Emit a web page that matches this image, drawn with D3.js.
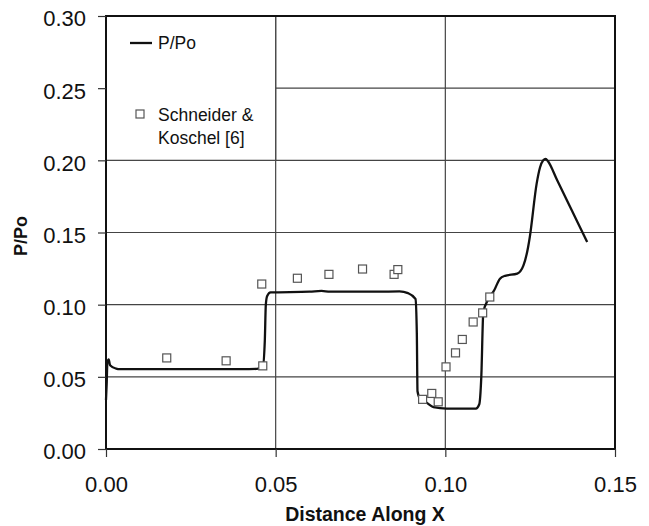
<!DOCTYPE html>
<html>
<head>
<meta charset="utf-8">
<script src="https://cdn.jsdelivr.net/npm/d3@7"></script>
<style>
  body { margin: 0; background: #fff; }
  text { font-family: "Liberation Sans", Arial, sans-serif; fill: #111; }
</style>
</head>
<body>
<svg width="649" height="526"></svg>
<script>
// computed P/Po along x
var lineX = [0.0000, 0.0002, 0.0004, 0.0008, 0.0012, 0.0030, 0.0040, 0.0200, 0.0400, 0.0444, 0.0462, 0.0468, 0.0471, 0.0475, 0.0485, 0.0600, 0.0635, 0.0660, 0.0800, 0.0865, 0.0890, 0.0912, 0.0916, 0.0918, 0.0925, 0.0945, 0.0965, 0.1004, 0.1090, 0.1100, 0.1106, 0.1112, 0.1125, 0.1144, 0.1161, 0.1176, 0.1212, 0.1230, 0.1244, 0.1249, 0.1269, 0.1279, 0.1288, 0.1296, 0.1302, 0.1330, 0.1360, 0.1390, 0.1418];
var lineY = [0.034, 0.045, 0.060, 0.062, 0.058, 0.0557, 0.0553, 0.0553, 0.0553, 0.0555, 0.057, 0.075, 0.100, 0.106, 0.1085, 0.109, 0.1095, 0.109, 0.109, 0.1092, 0.108, 0.104, 0.080, 0.040, 0.035, 0.032, 0.029, 0.028, 0.028, 0.031, 0.050, 0.095, 0.103, 0.110, 0.118, 0.120, 0.1215, 0.127, 0.140, 0.147, 0.1837, 0.195, 0.1999, 0.201, 0.1995, 0.1860, 0.1715, 0.1569, 0.1434];

// Schneider & Koschel [6] experiment
var expX = [0.0179, 0.0354, 0.0462, 0.0459, 0.0564, 0.0657, 0.0756, 0.0849, 0.0860, 0.0933, 0.0960, 0.0979, 0.1002, 0.1030, 0.1050, 0.1082, 0.1110, 0.1131];
var expY = [0.0631, 0.0611, 0.0576, 0.1143, 0.1183, 0.1210, 0.1247, 0.1210, 0.1243, 0.0344, 0.0385, 0.0327, 0.0569, 0.0666, 0.0759, 0.0880, 0.0943, 0.1053];

var xTicks = [0, 0.05, 0.10, 0.15];
var yTicks = [0, 0.05, 0.10, 0.15, 0.20, 0.25, 0.30];

var pL = 106, pR = 615, pT = 16, pB = 449;

var svg = d3.select("svg");

var x = d3.scaleLinear().domain([0, 0.15]).range([pL, pR]);
var y = d3.scaleLinear().domain([0, 0.30]).range([pB, pT]);

// gridlines
var grid = svg.append("g");
grid.selectAll(".gy").data(yTicks).enter().append("line")
  .attr("x1", pL).attr("x2", pR)
  .attr("y1", function(d) { return y(d); }).attr("y2", function(d) { return y(d); })
  .attr("stroke", "#444").attr("stroke-width", 1.2);
grid.selectAll(".gx").data(xTicks).enter().append("line")
  .attr("x1", function(d) { return x(d); }).attr("x2", function(d) { return x(d); })
  .attr("y1", pT).attr("y2", pB)
  .attr("stroke", "#444").attr("stroke-width", 1.2);

// legend box sits over the grid in the top-left cell pair
svg.append("rect")
  .attr("x", x(0)).attr("y", y(0.30))
  .attr("width", x(0.05) - x(0)).attr("height", y(0.20) - y(0.30))
  .attr("fill", "#fff").attr("stroke", "#444").attr("stroke-width", 1.2);

// frame
svg.append("rect")
  .attr("x", pL).attr("y", pT)
  .attr("width", pR - pL).attr("height", pB - pT)
  .attr("fill", "none").attr("stroke", "#111").attr("stroke-width", 2);

// axes
var yAxis = d3.axisLeft(y).tickValues(yTicks).tickFormat(d3.format(".2f")).tickSize(8).tickPadding(12);
var xAxis = d3.axisBottom(x).tickValues(xTicks).tickFormat(d3.format(".2f")).tickSize(8).tickPadding(19);

var gy = svg.append("g").attr("transform", "translate(" + pL + ",0)").call(yAxis);
var gx = svg.append("g").attr("transform", "translate(0," + pB + ")").call(xAxis);
[gx, gy].forEach(function(g) {
  g.select(".domain").remove();
  g.selectAll(".tick line").attr("stroke", "#333").attr("stroke-width", 1.2);
  g.selectAll(".tick text").attr("font-size", 22).style("font-family", "Liberation Sans, Arial, sans-serif").attr("fill", "#111");
});
gy.selectAll(".tick text").attr("dy", "0.45em");

// axis titles
svg.append("text")
  .attr("x", 365).attr("y", 521)
  .attr("text-anchor", "middle").attr("font-size", 19.5).attr("font-weight", "bold")
  .text("Distance Along X");
svg.append("text")
  .attr("transform", "translate(27,236) rotate(-90)")
  .attr("text-anchor", "middle").attr("font-size", 18).attr("font-weight", "bold")
  .text("P/Po");

// computed line
var line = d3.line()
  .x(function(d, i) { return x(lineX[i]); })
  .y(function(d, i) { return y(lineY[i]); })
  .curve(d3.curveMonotoneX);
svg.append("path")
  .datum(lineX)
  .attr("d", line)
  .attr("fill", "none").attr("stroke", "#111").attr("stroke-width", 2.3)
  .attr("stroke-linejoin", "round");

// experiment squares
var sq = 8;
svg.selectAll(".exp").data(expX).enter().append("rect")
  .attr("x", function(d) { return x(d) - sq / 2; })
  .attr("y", function(d, i) { return y(expY[i]) - sq / 2; })
  .attr("width", sq).attr("height", sq)
  .attr("fill", "#fff").attr("stroke", "#555").attr("stroke-width", 1.2);

// legend entries
var lg = svg.append("g");
lg.append("line").attr("x1", 130).attr("x2", 152).attr("y1", 43).attr("y2", 43)
  .attr("stroke", "#111").attr("stroke-width", 2.3);
lg.append("text").attr("x", 158).attr("y", 49).attr("font-size", 17.5).text("P/Po");
lg.append("rect").attr("x", 136).attr("y", 110).attr("width", sq).attr("height", sq)
  .attr("fill", "#fff").attr("stroke", "#555").attr("stroke-width", 1.2);
lg.append("text").attr("x", 158).attr("y", 121).attr("font-size", 17.5).text("Schneider &");
lg.append("text").attr("x", 158).attr("y", 144).attr("font-size", 17.5).text("Koschel [6]");
</script>
</body>
</html>
